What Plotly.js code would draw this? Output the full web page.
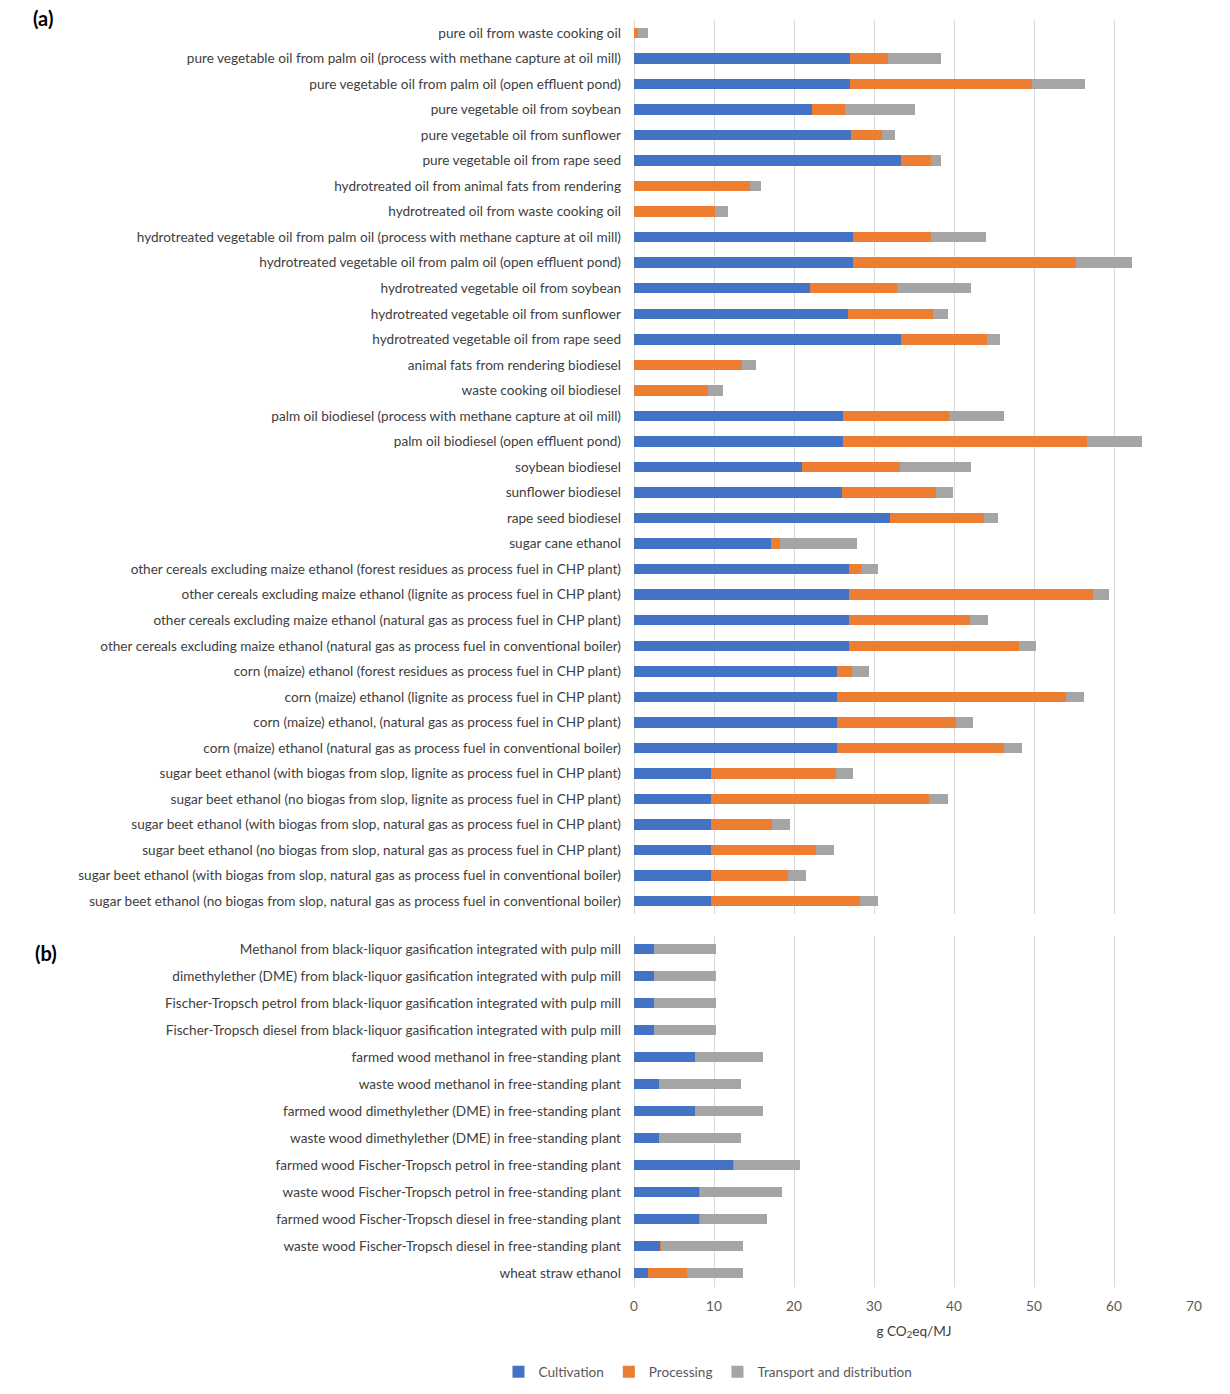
<!DOCTYPE html>
<html>
<head>
<meta charset="utf-8">
<script src="https://cdn.plot.ly/plotly-3.0.1.min.js"></script>
<style>html,body{margin:0;padding:0;background:#fff;}#chart{width:1230px;height:1394px;}</style>
</head>
<body>
<div id="chart"></div>
<script>
const categoriesA = [
  "pure oil from waste cooking oil",
  "pure vegetable oil from palm oil (process with methane capture at oil mill)",
  "pure vegetable oil from palm oil (open effluent pond)",
  "pure vegetable oil from soybean",
  "pure vegetable oil from sunflower",
  "pure vegetable oil from rape seed",
  "hydrotreated oil from animal fats from rendering",
  "hydrotreated oil from waste cooking oil",
  "hydrotreated vegetable oil from palm oil (process with methane capture at oil mill)",
  "hydrotreated vegetable oil from palm oil (open effluent pond)",
  "hydrotreated vegetable oil from soybean",
  "hydrotreated vegetable oil from sunflower",
  "hydrotreated vegetable oil from rape seed",
  "animal fats from rendering biodiesel",
  "waste cooking oil biodiesel",
  "palm oil biodiesel (process with methane capture at oil mill)",
  "palm oil biodiesel (open effluent pond)",
  "soybean biodiesel",
  "sunflower biodiesel",
  "rape seed biodiesel",
  "sugar cane ethanol",
  "other cereals excluding maize ethanol (forest residues as process fuel in CHP plant)",
  "other cereals excluding maize ethanol (lignite as process fuel in CHP plant)",
  "other cereals excluding maize ethanol (natural gas as process fuel in CHP plant)",
  "other cereals excluding maize ethanol (natural gas as process fuel in conventional boiler)",
  "corn (maize) ethanol (forest residues as process fuel in CHP plant)",
  "corn (maize) ethanol (lignite as process fuel in CHP plant)",
  "corn (maize) ethanol, (natural gas as process fuel in CHP plant)",
  "corn (maize) ethanol (natural gas as process fuel in conventional boiler)",
  "sugar beet ethanol (with biogas from slop, lignite as process fuel in CHP plant)",
  "sugar beet ethanol (no biogas from slop, lignite as process fuel in CHP plant)",
  "sugar beet ethanol (with biogas from slop, natural gas as process fuel in CHP plant)",
  "sugar beet ethanol (no biogas from slop, natural gas as process fuel in CHP plant)",
  "sugar beet ethanol (with biogas from slop, natural gas as process fuel in conventional boiler)",
  "sugar beet ethanol (no biogas from slop, natural gas as process fuel in conventional boiler)"
];
const cultivationA = [0, 27.0, 27.0, 22.2, 27.1, 33.4, 0, 0, 27.4, 27.4, 22.0, 26.8, 33.4, 0, 0, 26.1, 26.1, 21.0, 26.0, 32.0, 17.1, 26.9, 26.9, 26.9, 26.9, 25.4, 25.4, 25.4, 25.4, 9.6, 9.6, 9.6, 9.6, 9.6, 9.6];
const processingA = [0.5, 4.7, 22.7, 4.2, 3.9, 3.7, 14.5, 10.1, 9.7, 27.8, 10.9, 10.6, 10.7, 13.5, 9.3, 13.3, 30.5, 12.2, 11.8, 11.7, 1.2, 1.5, 30.5, 15.1, 21.2, 1.8, 28.6, 14.8, 20.9, 15.6, 27.3, 7.6, 13.1, 9.7, 18.7];
const transportA = [1.3, 6.7, 6.7, 8.7, 1.6, 1.3, 1.4, 1.7, 6.9, 7.0, 9.2, 1.9, 1.6, 1.7, 1.8, 6.8, 6.9, 8.9, 2.1, 1.8, 9.6, 2.1, 2.0, 2.2, 2.1, 2.2, 2.2, 2.2, 2.2, 2.2, 2.3, 2.3, 2.3, 2.2, 2.2];

const categoriesB = [
  "Methanol from black-liquor gasification integrated with pulp mill",
  "dimethylether (DME) from black-liquor gasification integrated with pulp mill",
  "Fischer-Tropsch petrol from black-liquor gasification integrated with pulp mill",
  "Fischer-Tropsch diesel from black-liquor gasification integrated with pulp mill",
  "farmed wood methanol in free-standing plant",
  "waste wood methanol in free-standing plant",
  "farmed wood dimethylether (DME) in free-standing plant",
  "waste wood dimethylether (DME) in free-standing plant",
  "farmed wood Fischer-Tropsch petrol in free-standing plant",
  "waste wood Fischer-Tropsch petrol in free-standing plant",
  "farmed wood Fischer-Tropsch diesel in free-standing plant",
  "waste wood Fischer-Tropsch diesel in free-standing plant",
  "wheat straw ethanol"
];
const cultivationB = [2.5, 2.5, 2.5, 2.5, 7.6, 3.1, 7.6, 3.1, 12.4, 8.1, 8.1, 3.3, 1.8];
const processingB = [0, 0, 0, 0, 0, 0, 0, 0, 0.1, 0.1, 0.1, 0.1, 4.8];
const transportB = [7.8, 7.7, 7.8, 7.7, 8.5, 10.3, 8.5, 10.3, 8.3, 10.3, 8.4, 10.2, 7.0];

const seriesNames = ["Cultivation", "Processing", "Transport and distribution"];
const seriesColors = ["#4472C4", "#ED7D31", "#A5A5A5"];

const traces = [];
[cultivationA, processingA, transportA].forEach((vals, i) => {
  traces.push({type: 'bar', orientation: 'h', name: seriesNames[i], x: vals, y: categoriesA,
    xaxis: 'x', yaxis: 'y', width: 0.41, marker: {color: seriesColors[i]}, showlegend: true, legendgroup: seriesNames[i]});
});
[cultivationB, processingB, transportB].forEach((vals, i) => {
  traces.push({type: 'bar', orientation: 'h', name: seriesNames[i], x: vals, y: categoriesB,
    xaxis: 'x2', yaxis: 'y2', width: 0.37, marker: {color: seriesColors[i]}, showlegend: false, legendgroup: seriesNames[i]});
});

const fontFam = "Lato, 'Liberation Sans', sans-serif";
const grid = '#D9D9D9';
const layout = {
  width: 1230, height: 1394,
  margin: {l: 634, r: 36, t: 20, b: 107, autoexpand: false},
  paper_bgcolor: '#fff', plot_bgcolor: '#fff',
  barmode: 'stack',
  font: {family: fontFam, size: 13.6, color: '#404040'},
  xaxis: {domain: [0, 1], anchor: 'y', range: [0, 70], dtick: 10, showticklabels: false,
    showgrid: true, gridcolor: grid, gridwidth: 1, zeroline: true, zerolinecolor: grid, zerolinewidth: 1, showline: false, fixedrange: true},
  yaxis: {domain: [0.2944, 1], anchor: 'x', type: 'category', autorange: 'reversed', showgrid: false, zeroline: false, showline: false,
    ticks: '', ticklabelstandoff: 12, tickfont: {family: fontFam, size: 13.6, color: '#404040'}},
  xaxis2: {domain: [0, 1], anchor: 'y2', range: [0, 70], dtick: 10, showticklabels: true,
    showgrid: true, gridcolor: grid, gridwidth: 1, zeroline: true, zerolinecolor: grid, zerolinewidth: 1, showline: false,
    tickfont: {family: fontFam, size: 13.6, color: '#595959'}, ticklabelstandoff: 9,
    title: {text: 'g CO<sub>2</sub>eq/MJ', font: {family: fontFam, size: 13.6, color: '#404040'}, standoff: 13}},
  yaxis2: {domain: [0, 0.2774], anchor: 'x2', type: 'category', autorange: 'reversed', showgrid: false, zeroline: false, showline: false,
    ticks: '', ticklabelstandoff: 12, tickfont: {family: fontFam, size: 13.6, color: '#404040'}},
  legend: {orientation: 'h', x: -0.242, xanchor: 'left', y: -0.067, yanchor: 'middle',
    font: {family: fontFam, size: 13.6, color: '#595959'}, itemwidth: 30, traceorder: 'normal'},
  annotations: [
    {text: '<b>(a)</b>', xref: 'paper', yref: 'paper', x: (31 - 634) / 560, y: 1 + (20 - 18) / 1267, xanchor: 'left', yanchor: 'middle', showarrow: false,
      font: {family: fontFam, size: 20, color: '#000'}},
    {text: '<b>(b)</b>', xref: 'paper', yref: 'paper', x: (33 - 634) / 560, y: (1287 - 953) / 1267, xanchor: 'left', yanchor: 'middle', showarrow: false,
      font: {family: fontFam, size: 20, color: '#000'}}
  ]
};
Plotly.newPlot('chart', traces, layout, {displayModeBar: false, staticPlot: true});
</script>
</body>
</html>
